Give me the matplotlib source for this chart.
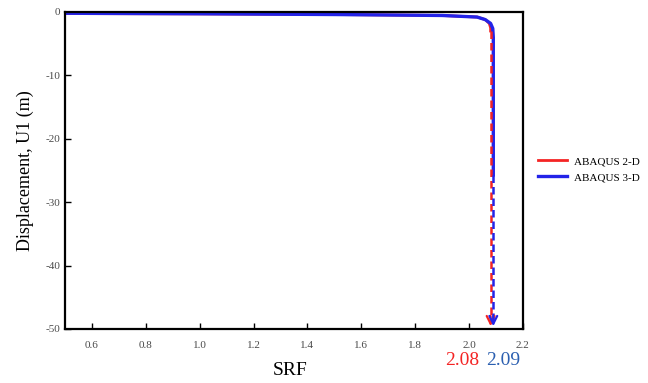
import matplotlib.pyplot as plt

plt.rcParams['font.family'] = ['Liberation Serif', 'DejaVu Serif']
plt.rcParams['axes.unicode_minus'] = False

# Displacement vs strength reduction factor
srf_2d = [0.5, 1.0, 1.5, 1.9, 2.03, 2.06, 2.075, 2.08, 2.08]
u1_2d = [-0.25, -0.3, -0.4, -0.55, -0.8, -1.2, -1.8, -2.5, -3.0]
srf_3d = [0.5, 1.0, 1.5, 1.9, 2.03, 2.06, 2.08, 2.088, 2.09, 2.09]
u1_3d = [-0.2, -0.28, -0.4, -0.55, -0.8, -1.2, -1.8, -2.6, -4.0, -25.7]

# failure SRF for each model
fs_2d = 2.08
fs_3d = 2.09

xticks = [0.6, 0.8, 1.0, 1.2, 1.4, 1.6, 1.8, 2.0, 2.2]
yticks = [0, -10, -20, -30, -40, -50]

red = '#f42424'
blue = '#2323e8'

fig = plt.figure(figsize=(6.48, 3.83), dpi=100)
ax = fig.add_axes([0.1003, 0.141, 0.7067, 0.8277])

ax.plot(srf_2d, u1_2d, color=red, lw=2.0, label='ABAQUS 2-D')
ax.plot(srf_3d, u1_3d, color=blue, lw=2.4, label='ABAQUS 3-D')

# dashed continuation down to the failure value
ax.plot([fs_2d, fs_2d], [u1_2d[-1], -49.0], color=red, lw=1.8, ls=(0, (3, 1.6)))
ax.plot([fs_3d, fs_3d], [u1_3d[-1], -49.0], color=blue, lw=1.8, ls=(0, (3, 1.6)))
for fs, c in [(fs_2d, red), (fs_3d, blue)]:
    ax.annotate('', xy=(fs, -50), xytext=(fs, -47.5),
                arrowprops=dict(arrowstyle='->', color=c, lw=1.6,
                                mutation_scale=14))
ax.annotate('%.2f' % fs_2d, xy=(fs_2d, -50), xytext=(-11, -32),
            textcoords='offset pixels', color=red, fontsize=14,
            ha='right', va='center', annotation_clip=False)
ax.annotate('%.2f' % fs_3d, xy=(fs_3d, -50), xytext=(-7, -32),
            textcoords='offset pixels', color='#2b5fb0', fontsize=14,
            ha='left', va='center', annotation_clip=False)

ax.set_xlim(0.5, 2.2)
ax.set_ylim(-50, 0)
ax.set_xticks(xticks)
ax.set_yticks(yticks)
ax.set_xticklabels(['%.1f' % t for t in xticks])
ax.tick_params(direction='in', length=4, width=1.0, labelsize=8,
               labelcolor='#4a4a4a', top=False, right=False)
ax.tick_params(axis='x', pad=9)
for s in ax.spines.values():
    s.set_linewidth(1.6)

ax.set_xlabel('SRF', fontsize=14)
ax.set_ylabel('Displacement, U1 (m)', fontsize=13, labelpad=8)
ax.xaxis.set_label_coords(0.491, -0.105)

fig.legend(loc='center left', bbox_to_anchor=(0.815, 0.558), frameon=False,
           fontsize=8, handlelength=2.6, handletextpad=0.6, labelspacing=0.55)

fig.savefig('out.png', dpi=100)
